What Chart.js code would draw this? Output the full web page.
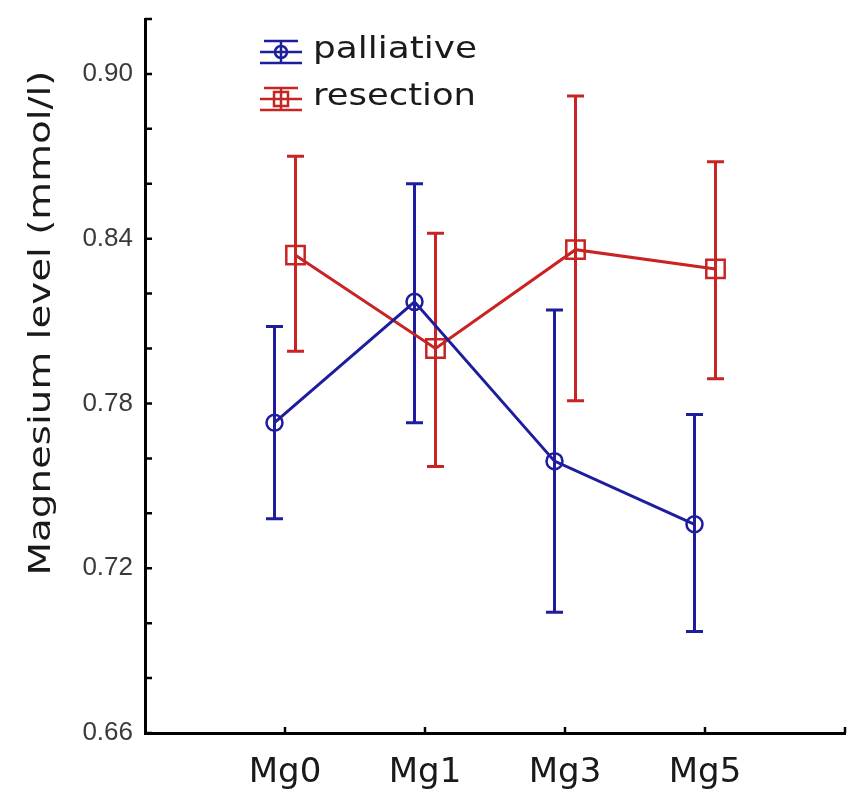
<!DOCTYPE html>
<html>
<head>
<meta charset="utf-8">
<script src="https://cdn.jsdelivr.net/npm/chart.js@4.4.1/dist/chart.umd.min.js"></script>
<style>
  html, body { margin: 0; padding: 0; background: #fff; }
</style>
</head>
<body>
<canvas id="mgChart" width="866" height="789"></canvas>
<script>
// values (means with CI ends)
const categories = ['Mg0', 'Mg1', 'Mg3', 'Mg5'];
const palliativeMean = [0.773, 0.817, 0.759, 0.736];
const palliativeLow  = [0.738, 0.773, 0.704, 0.697];
const palliativeHigh = [0.808, 0.860, 0.814, 0.776];
const resectionMean  = [0.834, 0.800, 0.836, 0.829];
const resectionLow   = [0.799, 0.757, 0.781, 0.789];
const resectionHigh  = [0.870, 0.842, 0.892, 0.868];
const yLabelled = [0.66, 0.72, 0.78, 0.84, 0.90];

const BLUE = '#1d1d9e';
const RED = '#c82424';
const shift = 0.075; // the two groups sit a little apart

function points(vals, dx) {
  return vals.map((v, i) => ({ x: i + dx, y: v }));
}

// vertical error bars with caps, drawn under the lines
const errorBars = {
  id: 'errorBars',
  beforeDatasetsDraw(chart) {
    const { ctx, scales: { x, y } } = chart;
    chart.data.datasets.forEach(ds => {
      ctx.save();
      ctx.strokeStyle = ds.borderColor;
      ctx.lineWidth = 3;
      ds.data.forEach((p, i) => {
        const px = x.getPixelForValue(p.x);
        const top = y.getPixelForValue(ds.errHigh[i]);
        const bot = y.getPixelForValue(ds.errLow[i]);
        ctx.beginPath();
        ctx.moveTo(px, top); ctx.lineTo(px, bot);
        ctx.moveTo(px - 8.5, top); ctx.lineTo(px + 8.5, top);
        ctx.moveTo(px - 8.5, bot); ctx.lineTo(px + 8.5, bot);
        ctx.stroke();
      });
      ctx.restore();
    });
  }
};

// tick marks point into the plot
const innerTicks = {
  id: 'innerTicks',
  afterDraw(chart) {
    const { ctx, scales: { x, y } } = chart;
    ctx.save();
    ctx.strokeStyle = '#000';
    ctx.lineWidth = 2.5;
    ctx.beginPath();
    y.ticks.forEach(t => {
      const py = y.getPixelForValue(t.value);
      ctx.moveTo(y.right, py); ctx.lineTo(y.right + 7, py);
    });
    x.ticks.forEach(t => {
      if (t.value < 0) return;
      const px = x.getPixelForValue(t.value);
      ctx.moveTo(px, x.top); ctx.lineTo(px, x.top - 6);
    });
    ctx.stroke();
    ctx.restore();
  }
};

function wideText(ctx, text, x, y, width) {
  const w = ctx.measureText(text).width;
  ctx.save();
  ctx.translate(x, y);
  ctx.scale(width / w, 1);
  ctx.fillText(text, 0, 0);
  ctx.restore();
}

function legendIcon(ctx, cx, cy, color, shape) {
  ctx.save();
  ctx.strokeStyle = color;
  ctx.lineWidth = 2.5;
  ctx.beginPath();
  ctx.moveTo(cx - 21, cy); ctx.lineTo(cx + 21, cy);
  ctx.moveTo(cx, cy - 11); ctx.lineTo(cx, cy + 11);
  ctx.moveTo(cx - 17, cy - 11); ctx.lineTo(cx + 17, cy - 11);
  ctx.moveTo(cx - 21, cy + 11); ctx.lineTo(cx + 21, cy + 11);
  ctx.stroke();
  ctx.beginPath();
  if (shape === 'circle') ctx.arc(cx, cy, 6, 0, Math.PI * 2);
  else ctx.rect(cx - 7, cy - 7, 14, 14);
  ctx.stroke();
  ctx.restore();
}

// legend inside the plot and the stretched y title
const annotations = {
  id: 'annotations',
  afterDraw(chart) {
    const ctx = chart.ctx;
    const ds = chart.data.datasets;
    legendIcon(ctx, 281, 52, ds[0].borderColor, 'circle');
    legendIcon(ctx, 281, 99, ds[1].borderColor, 'rect');
    ctx.save();
    ctx.fillStyle = '#1a1a1a';
    ctx.font = '31px "DejaVu Sans"';
    ctx.textBaseline = 'middle';
    ctx.textAlign = 'left';
    wideText(ctx, ds[0].label, 313, 50, 164);
    wideText(ctx, ds[1].label, 313, 97, 163);

    ctx.translate(42, 323);
    ctx.rotate(-Math.PI / 2);
    ctx.textAlign = 'center';
    ctx.font = '30px "DejaVu Sans"';
    wideText(ctx, 'Magnesium level (mmol/l)', 0, 0, 505);
    ctx.restore();
  }
};

new Chart(document.getElementById('mgChart'), {
  type: 'line',
  data: {
    datasets: [{
      label: 'palliative',
      data: points(palliativeMean, -shift),
      errLow: palliativeLow,
      errHigh: palliativeHigh,
      borderColor: BLUE,
      borderWidth: 3,
      pointStyle: 'circle',
      pointRadius: 8,
      pointBorderWidth: 2.5,
      pointBorderColor: BLUE,
      pointBackgroundColor: 'rgba(0,0,0,0)',
      tension: 0,
      fill: false
    }, {
      label: 'resection',
      data: points(resectionMean, shift),
      errLow: resectionLow,
      errHigh: resectionHigh,
      borderColor: RED,
      borderWidth: 3,
      pointStyle: 'rect',
      pointRadius: 13,
      pointBorderWidth: 2.5,
      pointBorderColor: RED,
      pointBackgroundColor: 'rgba(0,0,0,0)',
      tension: 0,
      fill: false
    }]
  },
  options: {
    responsive: false,
    animation: false,
    layout: { padding: { top: 19, right: 21, left: 0, bottom: 0 } },
    plugins: { legend: { display: false }, tooltip: { enabled: false } },
    scales: {
      x: {
        type: 'linear',
        min: -1,
        max: 4,
        afterFit: s => { s.height = 56; s.paddingLeft = 0; s.paddingRight = 0; },
        grid: { display: false, drawTicks: false },
        border: { display: true, color: '#000', width: 3 },
        ticks: {
          stepSize: 1,
          autoSkip: false,
          maxRotation: 0,
          padding: 20,
          color: '#1a1a1a',
          font: { family: 'DejaVu Sans', size: 34 },
          callback: v => categories[v] ?? ''
        }
      },
      y: {
        min: 0.66,
        max: 0.92,
        afterFit: s => { s.width = 145; s.paddingTop = 0; s.paddingBottom = 0; },
        grid: { display: false, drawTicks: false },
        border: { display: true, color: '#000', width: 3 },
        ticks: {
          stepSize: 0.02,
          autoSkip: false,
          padding: 12,
          color: '#3a3a3a',
          font: { family: 'Liberation Sans', size: 26 },
          callback: v => yLabelled.some(l => Math.abs(l - v) < 1e-6) ? v.toFixed(2) : ''
        }
      }
    }
  },
  plugins: [errorBars, innerTicks, annotations]
});
</script>
</body>
</html>
